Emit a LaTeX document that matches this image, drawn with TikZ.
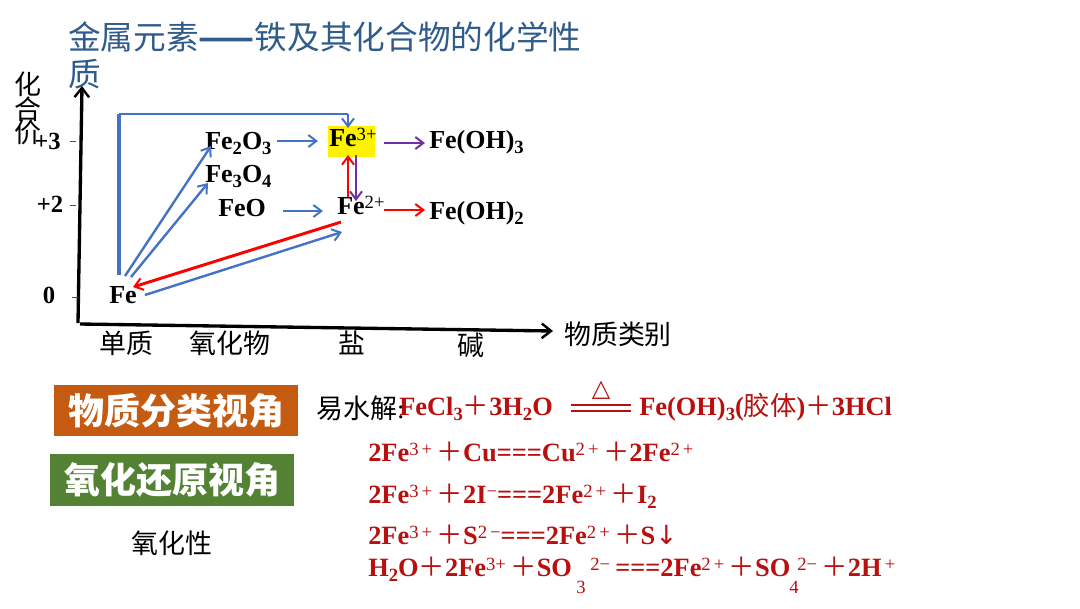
\documentclass[tikz,border=0pt]{standalone}
\usepackage{fontspec}
\setmainfont{Liberation Serif}
\newfontfamily\cjk{Noto Sans CJK SC}
\newfontfamily\symb{DejaVu Sans}
\usetikzlibrary{arrows.meta}
\definecolor{titleblue}{HTML}{2F5C8A}
\definecolor{arrblue}{HTML}{4472C4}
\definecolor{arrpurple}{HTML}{7030A0}
\definecolor{arrred}{HTML}{FF0000}
\definecolor{eqred}{HTML}{B80F0F}
\definecolor{boxbrown}{HTML}{C55A11}
\definecolor{boxgreen}{HTML}{548235}
\newcommand{\supr}[1]{\raisebox{0.22em}{\fontsize{14}{14}\selectfont\mdseries #1}}
\newcommand{\subr}[1]{\raisebox{-0.2em}{\fontsize{14}{14}\selectfont #1}}
\newcommand{\pl}{{\cjk\mdseries ＋}}
\tikzset{
  x=0.75pt,y=-0.75pt,
  chem/.style={anchor=base west,inner sep=0pt,font=\bfseries\fontsize{19.5}{19.5}\selectfont,text=black},
  eqn/.style={anchor=base west,inner sep=0pt,font=\bfseries\fontsize{19.8}{19.8}\selectfont,text=eqred},
  lab/.style={inner sep=0pt,font=\cjk\fontsize{20.2}{20.2}\selectfont,text=black},
  val/.style={inner sep=0pt,font=\bfseries\fontsize{18.5}{18.5}\selectfont,text=black},
  banner/.style={inner sep=0pt,text=white,font=\cjk\bfseries\fontsize{27}{27}\selectfont},
  axis/.style={draw=black,line width=2.5pt,-{Straight Barb[length=7pt,width=11pt,line width=1.8pt]}},
  tick/.style={draw=black!70,line width=0.6pt},
  arr/.style={line width=1.8pt,-{Straight Barb[length=6pt,width=9pt,line width=1.5pt]}},
  blue arr/.style={arr,draw=arrblue},
  red arr/.style={arr,draw=arrred,line width=2.2pt},
  purple arr/.style={arr,draw=arrpurple},
}
\begin{document}
\begin{tikzpicture}
\useasboundingbox (0,0) rectangle (1080,608);
% title
\node[anchor=west,inner sep=0pt,text=titleblue,font=\cjk\fontsize{24.5}{24.5}\selectfont] (title1) at (68,37) {金属元素{\bfseries ——}铁及其化合物的化学性};
\node[anchor=west,inner sep=0pt,text=titleblue,font=\cjk\fontsize{24.5}{24.5}\selectfont] (title2) at (68,74) {质};
% axes
\coordinate (yfoot) at (78,323);
\coordinate (ytop) at (82,86);
\coordinate (xfoot) at (80,324);
\coordinate (xtip) at (553,331);
\draw[axis] (yfoot) -- (ytop);
\draw[axis] (xfoot) -- (xtip);
\foreach \n/\a/\b/\y in {t3/70/76/141,t2/70/76/205,t0/72/78/297}{
  \coordinate (\n a) at (\a,\y); \coordinate (\n b) at (\b,\y);
  \draw[tick] (\n a) -- (\n b);
}
\node[lab] (h1) at (28,84) {化};
\node[lab] (h2) at (28,109) {合};
\node[lab] (h3) at (28,132) {价};
\node[val] (v3) at (47.5,141) {+3};
\node[val] (v2) at (50,204) {+2};
\node[val] (v0) at (49,295) {0};
\node[lab] (c1) at (126,343) {单质};
\node[lab] (c2) at (230,343) {氧化物};
\node[lab] (c3) at (352,343) {盐};
\node[lab] (c4) at (471,345) {碱};
\node[lab] (xl) at (618,334) {物质类别};
% highlight
\fill[yellow] (328,126) rectangle (375,157);
% species
\node[chem] (fe2o3) at (205,149) {Fe\subr{2}O\subr{3}};
\node[chem] (fe3o4) at (205,182) {Fe\subr{3}O\subr{4}};
\node[chem] (feo) at (218,216) {FeO};
\node[chem] (fe3) at (329,146) {Fe\supr{3+}};
\node[chem] (fe2) at (337,214) {Fe\supr{2+}};
\node[chem] (oh3) at (429,148) {Fe(OH)\subr{3}};
\node[chem] (oh2) at (429,219) {Fe(OH)\subr{2}};
\node[chem] (fe) at (109,303) {Fe};
% arrows
\coordinate (a1) at (119,275); \coordinate (a2) at (119,114); \coordinate (a3) at (348,114); \coordinate (a4) at (348,128);
\draw[arrblue,line width=3.2pt] (a1) -- (a2);
\draw[arrblue,line width=2.2pt] (a2) -- (a3);
\draw[blue arr] (a3) -- (a4);
\coordinate (b1) at (125,276); \coordinate (b2) at (211,146);
\draw[blue arr] (b1) -- (b2);
\coordinate (c1a) at (131,277); \coordinate (c2a) at (208,183);
\draw[blue arr] (c1a) -- (c2a);
\coordinate (d1) at (277,141); \coordinate (d2) at (318,141);
\draw[blue arr] (d1) -- (d2);
\coordinate (e1) at (283,211); \coordinate (e2) at (323,211);
\draw[blue arr] (e1) -- (e2);
\coordinate (f1) at (145,295); \coordinate (f2) at (342,232);
\draw[blue arr] (f1) -- (f2);
\coordinate (g1) at (341,222); \coordinate (g2) at (133,287);
\draw[red arr] (g1) -- (g2);
\coordinate (r1) at (348,197); \coordinate (r2) at (348,155);
\draw[red arr] (r1) -- (r2);
\coordinate (p1) at (356,155); \coordinate (p2) at (356,201);
\draw[purple arr] (p1) -- (p2);
\coordinate (q1) at (384,143); \coordinate (q2) at (425,143);
\draw[purple arr] (q1) -- (q2);
\coordinate (s1) at (384,210); \coordinate (s2) at (425,210);
\draw[red arr] (s1) -- (s2);
% banners
\node[banner,fill=boxbrown,minimum width=183pt,minimum height=38.5pt] (bn1) at (176,410.5) {\raisebox{1.5pt}{物质分类视角}};
\node[banner,fill=boxgreen,minimum width=183pt,minimum height=39pt] (bn2) at (172,480) {\raisebox{1.5pt}{氧化还原视角}};
\node[lab] (yx) at (172,543) {氧化性};
% equations
\node[lab,anchor=west] (yi) at (316,408) {易水解{\rmfamily :}};
\node[eqn] (q11) at (399,415) {FeCl\subr{3}\pl 3H\subr{2}O};
\coordinate (l1) at (571,405); \coordinate (l2) at (631,405);
\coordinate (l3) at (571,411); \coordinate (l4) at (631,411);
\draw[eqred,line width=0.8pt] (l1) -- (l2) (l3) -- (l4);
\node[text=eqred,inner sep=0pt,font=\symb\fontsize{18}{18}\selectfont] (delta) at (601,390) {△};
\node[eqn] (q12) at (639,415) {Fe(OH)\subr{3}({\cjk\mdseries 胶体})\pl 3HCl};
\node[eqn] (q2) at (368,461) {2Fe\supr{3\,+}\,\pl Cu===Cu\supr{2\,+}\,\pl 2Fe\supr{2\,+}};
\node[eqn] (q3) at (368,503) {2Fe\supr{3\,+}\,\pl 2I\supr{−}===2Fe\supr{2\,+}\,\pl I\subr{2}};
\node[eqn] (q4) at (368,544) {2Fe\supr{3\,+}\,\pl S\supr{2\,−}===2Fe\supr{2\,+}\,\pl S{\symb\mdseries ↓}};
\node[eqn] (q5) at (368,576) {H\subr{2}O\pl 2Fe\supr{3+}\,\pl SO};
\node[eqn] (q5a) at (590,576) {\supr{2−}};
\node[eqn] (q5b) at (615,576) {===2Fe\supr{2\,+}\,\pl SO};
\node[eqn] (q5c) at (797,576) {\supr{2−}\,\pl 2H\supr{\,+}};
\node[eqn,font=\mdseries\fontsize{14}{14}\selectfont] (s3) at (576,593) {3};
\node[eqn,font=\mdseries\fontsize{14}{14}\selectfont] (s4) at (789,593) {4};
\end{tikzpicture}
\end{document}
